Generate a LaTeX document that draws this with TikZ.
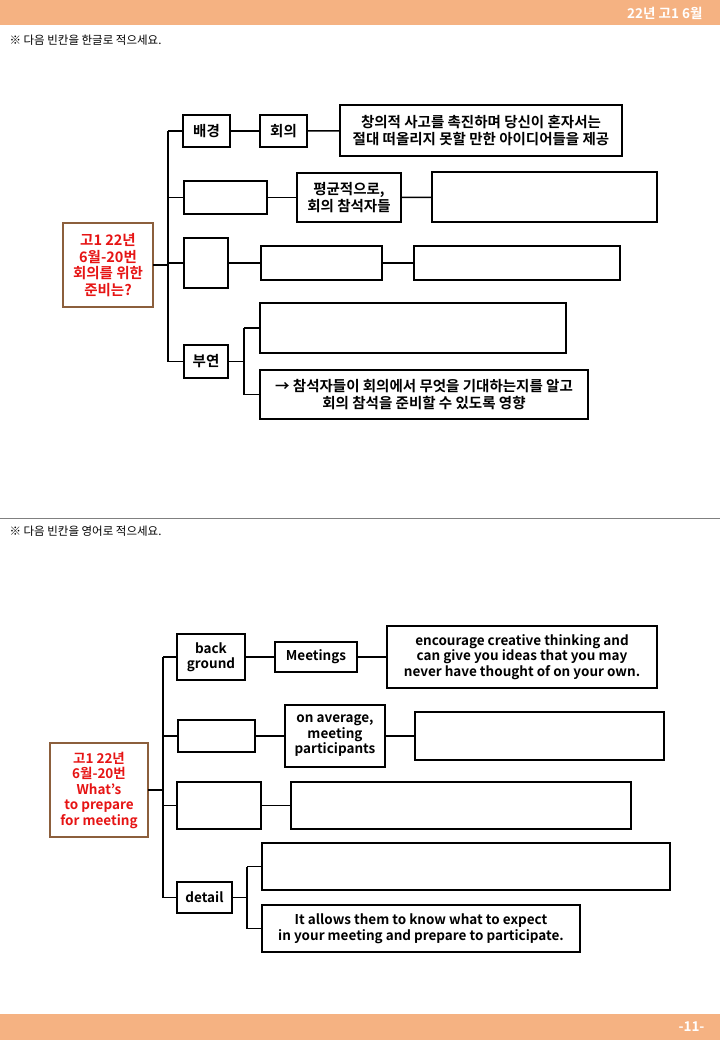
\documentclass[tikz,border=0pt]{standalone}
\usepackage{fontspec}
\setmainfont{Noto Sans CJK KR}[BoldFont={* Bold}]
\begin{document}
\begin{tikzpicture}[x=1pt,y=-1pt,
  box/.style={draw=black,line width=1.5pt,inner sep=0pt,outer sep=0pt,align=center,font=\bfseries\fontsize{14.5}{16.5}\selectfont},
  root/.style={box,draw={rgb,255:red,140;green,95;blue,60},text={rgb,255:red,230;green,20;blue,20}},
  ln/.style={line width=1.5pt}]
\definecolor{bar}{RGB}{245,178,130}
\newcommand\bx[7][box]{\node[#1,minimum width={(#5-#3)*1pt},minimum height={(#6-#4)*1pt}] (#2) at ({(#3+#5)/2},{(#4+#6)/2}) {#7};}
\useasboundingbox (0,0) rectangle (720,1040);
\fill[bar] (0,0) rectangle (720,25);
\fill[bar] (0,1014) rectangle (720,1040);
\node[anchor=east,text=white,font=\bfseries\fontsize{13.5}{15}\selectfont] (hd) at (706,13) {22년 고1 6월};
\node[anchor=east,text=white,font=\bfseries\fontsize{13.5}{15}\selectfont] (ft) at (708,1027) {-11-};
\node[anchor=west,font=\fontsize{11.5}{13}\selectfont] (q1) at (6,40) {※ 다음 빈칸을 한글로 적으세요.};
\draw[gray,line width=0.8pt] (0,518) -- (720,518);
\node[anchor=west,font=\fontsize{11.5}{13}\selectfont] (q2) at (6,531) {※ 다음 빈칸을 영어로 적으세요.};
% top
\bx[root]{r}{63}{223}{153}{307}{고1 22년\\6월-20번\\회의를 위한\\준비는?}
\bx{a1}{183}{115}{230}{147}{배경}
\bx{a2}{260}{115}{307}{147}{회의}
\bx{a3}{340}{105}{622}{156}{창의적 사고를 촉진하며 당신이 혼자서는\\절대 떠올리지 못할 만한 아이디어들을 제공}
\bx{b1}{184}{181}{267}{214}{}
\bx{b2}{297}{173}{401}{222}{평균적으로,\\회의 참석자들}
\bx{b3}{432}{172}{657}{222}{}
\bx{c1}{184}{238}{228}{288}{}
\bx{c2}{261}{246}{382}{280}{}
\bx{c3}{414}{246}{620}{280}{}
\bx{d1}{184}{345}{228}{378}{부연}
\bx{d2}{260}{303}{566}{353}{}
\bx{d3}{260}{370}{588}{419}{→ 참석자들이 회의에서 무엇을 기대하는지를 알고\\회의 참석을 준비할 수 있도록 영향}
\coordinate (T) at (168,0);
\coordinate (U) at (244,0);
\draw[ln] (r.east) -- (r.east -| T);
\draw[ln] (a1.west -| T) -- (d1.west -| T);
\foreach \n in {a1,b1,c1,d1} \draw[ln] (\n.west -| T) -- (\n.west);
\draw[ln] (a1) -- (a2); \draw[ln] (a2) -- (a3);
\draw[ln] (b1) -- (b2); \draw[ln] (b2) -- (b3);
\draw[ln] (c1) -- (c2); \draw[ln] (c2) -- (c3);
\draw[ln] (d1.east) -- (d1.east -| U);
\draw[ln] (d2.west -| U) -- (d3.west -| U);
\draw[ln] (d2.west -| U) -- (d2.west);
\draw[ln] (d3.west -| U) -- (d3.west);
% bottom
\begin{scope}[box/.append style={font=\bfseries\fontsize{13.5}{15.5}\selectfont}]
\bx[root]{R}{50}{743}{148}{837}{고1 22년\\6월-20번\\What's\\to prepare\\for meeting}
\bx{A1}{177}{634}{245}{680}{back\\ground}
\bx{A2}{275}{642}{357}{672}{Meetings}
\bx{A3}{387}{626}{657}{688}{encourage creative thinking and\\can give you ideas that you may\\never have thought of on your own.}
\bx{B1}{178}{720}{255}{752}{}
\bx{B2}{285}{705}{385}{767}{on average,\\meeting\\participants}
\bx{B3}{415}{712}{664}{760}{}
\bx{C1}{177}{782}{261}{829}{}
\bx{C2}{291}{782}{631}{829}{}
\bx{D1}{177}{882}{232}{913}{detail}
\bx{D2}{262}{843}{670}{890}{}
\bx{D3}{262}{905}{580}{952}{It allows them to know what to expect\\in your meeting and prepare to participate.}
\end{scope}
\coordinate (V) at (163,0);
\coordinate (W) at (247,0);
\draw[ln] (R.east) -- (R.east -| V);
\draw[ln] (A1.west -| V) -- (D1.west -| V);
\foreach \n in {A1,B1,C1,D1} \draw[ln] (\n.west -| V) -- (\n.west);
\draw[ln] (A1) -- (A2); \draw[ln] (A2) -- (A3);
\draw[ln] (B1) -- (B2); \draw[ln] (B2) -- (B3);
\draw[ln] (C1) -- (C2);
\draw[ln] (D1.east) -- (D1.east -| W);
\draw[ln] (D2.west -| W) -- (D3.west -| W);
\draw[ln] (D2.west -| W) -- (D2.west);
\draw[ln] (D3.west -| W) -- (D3.west);
\end{tikzpicture}
\end{document}
